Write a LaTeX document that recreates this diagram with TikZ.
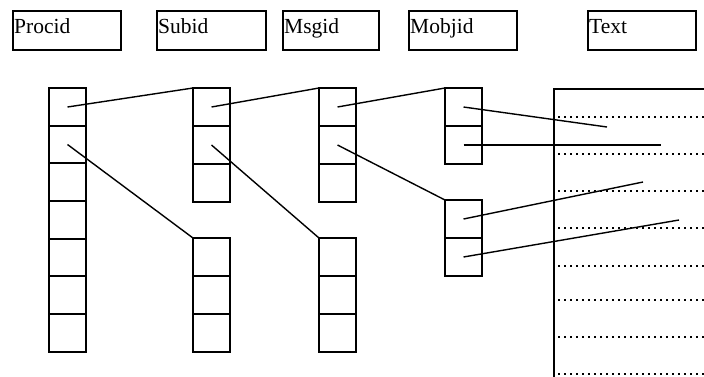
\documentclass[tikz,border=0pt]{standalone}
\usepackage{fontspec}
\setmainfont{Liberation Serif}
\begin{document}
\begin{tikzpicture}[x=1pt,y=-1pt,
  hdr/.style={draw, line width=1.6pt, minimum height=39pt, anchor=north west, inner sep=0pt, outer sep=0pt},
  lbl/.style={anchor=base west, inner sep=0pt, font=\fontsize{21.5}{24}\selectfont},
  cell/.style={draw, line width=1.5pt, minimum width=37pt, minimum height=38pt, anchor=north west, inner sep=0pt, outer sep=0pt},
  link/.style={line width=1.4pt},
  rule/.style={line width=1.8pt, dash pattern=on 1.6pt off 4.4pt}]
\useasboundingbox (0,0) rectangle (704,376);
\clip (0,0) rectangle (704,376);

% field headers
\node[hdr, minimum width=108pt] (procid) at (13,11) {};
\node[lbl] at ([xshift=1pt,yshift=-22pt]procid.north west) {Procid};
\node[hdr, minimum width=109pt] (subid) at (157,11) {};
\node[lbl] at ([xshift=1pt,yshift=-22pt]subid.north west) {Subid};
\node[hdr, minimum width=96pt] (msgid) at (283,11) {};
\node[lbl] at ([xshift=1pt,yshift=-22pt]msgid.north west) {Msgid};
\node[hdr, minimum width=108pt] (mobjid) at (409,11) {};
\node[lbl] at ([xshift=1pt,yshift=-22pt]mobjid.north west) {Mobjid};
\node[hdr, minimum width=108pt] (text) at (588,11) {};
\node[lbl] at ([xshift=1pt,yshift=-22pt]text.north west) {Text};

% process table
\foreach \y/\h [count=\i] in {88/38,126/37,163/38,201/38,239/37,276/38,314/38}
  \node[cell, minimum height=\h pt] (p\i) at (49,\y) {};
% subprocess tables
\foreach \i in {1,2,3} \node[cell] (sa\i) at (193,{88+(\i-1)*38}) {};
\foreach \i in {1,2,3} \node[cell] (sb\i) at (193,{238+(\i-1)*38}) {};
% message tables
\foreach \i in {1,2,3} \node[cell] (ma\i) at (319,{88+(\i-1)*38}) {};
\foreach \i in {1,2,3} \node[cell] (mb\i) at (319,{238+(\i-1)*38}) {};
% message object tables
\foreach \i in {1,2} \node[cell] (oa\i) at (445,{88+(\i-1)*38}) {};
\foreach \i in {1,2} \node[cell] (ob\i) at (445,{200+(\i-1)*38}) {};

% text area with ruled lines
\node[draw, line width=1.5pt, minimum width=170pt, minimum height=310pt, anchor=north west, inner sep=0pt] (textarea) at (553,88) {};
\foreach \y in {117,154,191,228,266,300,337,374} \draw[rule] (558,\y) -- (706,\y);

% pointers between tables
\draw[link] (p1.center) -- (sa1.north west);
\draw[link] (sa1.center) -- (ma1.north west);
\draw[link] (ma1.center) -- (oa1.north west);
\draw[link] (p2.center) -- (sb1.north west);
\draw[link] (sa2.center) -- (mb1.north west);
\draw[link] (ma2.center) -- (ob1.north west);

% pointers into the text area
\coordinate (t1) at (607,127);
\coordinate (t2) at (661,145);
\coordinate (t3) at (643,182);
\coordinate (t4) at (679,220);
\draw[link] (oa1.center) -- (t1);
\draw[link] (oa2.center) -- (t2);
\draw[link] (ob1.center) -- (t3);
\draw[link] (ob2.center) -- (t4);
\end{tikzpicture}
\end{document}
